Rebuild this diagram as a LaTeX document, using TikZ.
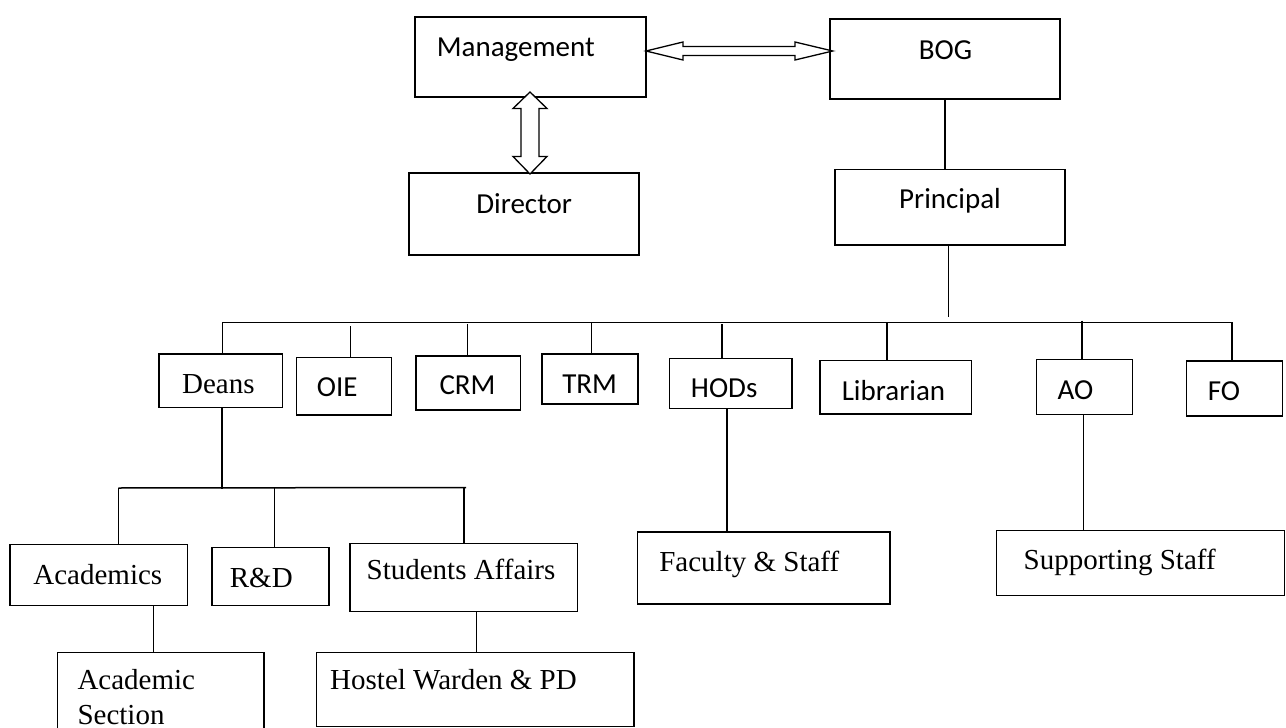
\documentclass[tikz,border=0pt]{standalone}
\usepackage{fontspec}
\setmainfont{Liberation Serif}
\newfontfamily\calib{Carlito}
\usetikzlibrary{calc}
\tikzset{
  box/.style={draw, line width=1.5pt, inner sep=0pt, outer sep=0pt, anchor=north west},
  sanslbl/.style={font=\calib\fontsize{29}{34}\selectfont, inner sep=0pt, anchor=base},
  seriflbl/.style={font=\fontsize{29}{34}\selectfont, inner sep=0pt, anchor=base},
  seriflft/.style={font=\fontsize{29}{34}\selectfont, inner sep=0pt, anchor=base west},
  conn/.style={line width=1.5pt},
  blockarrow/.style={line width=1.3pt, fill=white, line join=miter},
}
\newcommand\orgbox[5]{\node[box, minimum width={#4-#2}, minimum height={#5-#3}] (#1) at (#2,#3) {};}
\begin{document}
\begin{tikzpicture}[x=1pt,y=-1pt]
\clip (0,0) rectangle (1286,728);
\fill[white] (0,0) rectangle (1286,728);

% ---- boxes ----
\orgbox{mgmt}{415}{17}{646}{97}
\orgbox{bog}{830}{19}{1060}{99}
\orgbox{director}{409}{173}{639}{255}
\orgbox{principal}{835}{169.3}{1065}{245}
\orgbox{deans}{159}{354}{282.7}{407.3}
\orgbox{oie}{296.7}{357.3}{391.7}{415}
\orgbox{crm}{416}{356}{520.7}{410}
\orgbox{trm}{542}{354}{638}{404}
\orgbox{hods}{669.7}{358.3}{792}{408.3}
\orgbox{lib}{820}{360.7}{971.7}{414}
\orgbox{ao}{1036.7}{359.3}{1132.7}{414.3}
\orgbox{fo}{1186.7}{361}{1282.7}{416}
\orgbox{acad}{10}{544.7}{187.7}{605.3}
\orgbox{rd}{212}{547.3}{329}{605.3}
\orgbox{sa}{350}{543.5}{577.7}{611.3}
\orgbox{acsec}{57.3}{652.3}{264}{745}
\orgbox{hostel}{316.7}{652.3}{634}{726.3}
\orgbox{fac}{637.3}{532}{890}{604}
\orgbox{sup}{996.3}{530.3}{1284.5}{595.3}

% ---- labels ----
\node[sanslbl] (tmgmt) at (515.8,56.7) {Management};
\node[sanslbl] (tbog) at (945.5,59.3) {BOG};
\node[sanslbl] (tdir) at (524.2,213.3) {Director};
\node[sanslbl] (tprin) at (950,208.3) {Principal};
\node[seriflbl] (tdeans) at (218.3,393.3) {Deans};
\node[sanslbl] (toie) at (337.3,396.7) {OIE};
\node[sanslbl] (tcrm) at (467.5,394) {CRM};
\node[sanslbl] (ttrm) at (589.7,393.3) {TRM};
\node[sanslbl] (thods) at (724.2,397.3) {HODs};
\node[sanslbl] (tlib) at (893.5,400) {Librarian};
\node[sanslbl] (tao) at (1075.5,399.3) {AO};
\node[sanslbl] (tfo) at (1224,400) {FO};
\node[seriflbl] (tacad) at (97.8,584.7) {Academics};
\node[seriflbl] (trd) at (261.3,587.3) {R\&D};
\node[seriflbl] (tsa) at (461,579.7) {Students Affairs};
\node[seriflft] (tacsec1) at (77.3,689.7) {Academic};
\node[seriflft] (tacsec2) at (77.3,724.7) {Section};
\node[seriflbl] (thostel) at (453.5,689.7) {Hostel Warden \& PD};
\node[seriflbl] (tfac) at (749.3,571.3) {Faculty \& Staff};
\node[seriflbl] (tsup) at (1119.7,569.7) {Supporting Staff};

% ---- block arrows ----
\coordinate (hl) at ($(mgmt.north east)+(0,34)$);
\coordinate (hr) at ($(bog.north west)+(2.7,32)$);
\draw[blockarrow] (hl) -- ($(hl)+(37,-9)$) -- ($(hl)+(37,-4.5)$) -- ($(hr)+(-37.7,-4.5)$)
  -- ($(hr)+(-37.7,-9)$) -- (hr) -- ($(hr)+(-37.7,9)$) -- ($(hr)+(-37.7,4.5)$)
  -- ($(hl)+(37,4.5)$) -- ($(hl)+(37,9)$) -- cycle;
\coordinate (vt) at ($(mgmt.south west)+(115,-5)$);
\coordinate (vb) at ($(director.north west)+(121,1)$);
\draw[blockarrow] (vt) -- ($(vt)+(17,16.5)$) -- ($(vt)+(9,16.5)$) -- ($(vb)+(9,-17.5)$)
  -- ($(vb)+(17,-17.5)$) -- (vb) -- ($(vb)+(-17,-17.5)$) -- ($(vb)+(-9,-17.5)$)
  -- ($(vt)+(-9,16.5)$) -- ($(vt)+(-17,16.5)$) -- cycle;

% ---- connectors ----
\draw[conn] (bog.south) -- (bog.south |- principal.north);
\coordinate (pdrop) at (948.5,316.7);
\draw[conn] (pdrop |- principal.south) -- (pdrop);

\coordinate (busL) at (222.7,322.3);
\coordinate (busR) at (1232,322.3);
\draw[conn] (busL) -- (busR);
\coordinate (dOIE) at (350.7,326);
\coordinate (dCRM) at (467.3,324.3);
\coordinate (dTRM) at (591.3,322.3);
\coordinate (dHOD) at (722,324.3);
\coordinate (dLIB) at (887,322.3);
\coordinate (dAO) at (1082,320.7);
\draw[conn] (busL) -- (busL |- deans.north);
\draw[conn] (dOIE) -- (dOIE |- oie.north);
\draw[conn] (dCRM) -- (dCRM |- crm.north);
\draw[conn] (dTRM) -- (dTRM |- trm.north);
\draw[conn] (dHOD) -- (dHOD |- hods.north);
\draw[conn] (dLIB) -- (dLIB |- lib.north);
\draw[conn] (dAO) -- (dAO |- ao.north);
\draw[conn] (busR) -- (busR |- fo.north);

\coordinate (dDean) at (222,489.3);
\draw[conn] (dDean |- deans.south) -- (dDean);
\coordinate (bus2L) at (118.3,488);
\coordinate (bus2R) at (466,487.5);
\draw[conn] (bus2L) -- (bus2R);
\coordinate (dRD) at (274.3,488);
\coordinate (dSA) at (463.8,487.5);
\draw[conn] (bus2L) -- (bus2L |- acad.north);
\draw[conn] (dRD) -- (dRD |- rd.north);
\draw[conn] (dSA) -- (dSA |- sa.north);

\coordinate (xAc) at (153.7,0);
\draw[conn] (xAc |- acad.south) -- (xAc |- acsec.north);
\coordinate (xSa) at (476.5,0);
\draw[conn] (xSa |- sa.south) -- (xSa |- hostel.north);
\coordinate (xHod) at (727,0);
\draw[conn] (xHod |- hods.south) -- (xHod |- fac.north);
\coordinate (xAo) at (1083.5,0);
\draw[conn] (xAo |- ao.south) -- (xAo |- sup.north);
\end{tikzpicture}
\end{document}
